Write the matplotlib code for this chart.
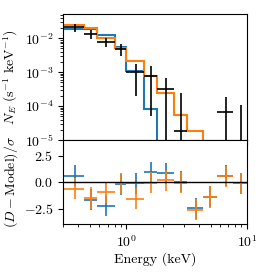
import matplotlib
matplotlib.use("Agg")
import matplotlib.pyplot as plt
import numpy as np

plt.rcParams["font.family"] = "serif"
plt.rcParams["font.serif"] = ["cmr10"]
plt.rcParams["mathtext.fontset"] = "cm"
plt.rcParams["axes.formatter.use_mathtext"] = True
plt.rcParams["font.size"] = 10

# energy bin edges (keV)
edges = np.array([0.3, 0.45, 0.57, 0.8, 1.0, 1.4, 1.8, 2.5, 3.2, 4.3, 5.6, 7.7, 10.0])

# observed spectrum (counts s^-1 keV^-1) and 1-sigma errors
data = [0.0211, 0.0134, 0.0079, 0.0048, 0.0010, 0.00078, 0.00031, 1.9e-5,
        3e-6, 3e-6, 6.6e-5, 5e-6]
data_err = [0.006, 0.0038, 0.0022, 0.0018, 0.0008, 0.00073, 0.00037, 0.00023,
            1e-6, 1e-6, 0.000116, 0.000105]

# folded models
model_blue = [0.0182, 0.0190, 0.01285, 0.00555, 0.0011, 8.3e-5, 3e-6, 4e-7,
              1e-7, 3e-8, 1e-8, 3e-9]
model_orange = [0.0246, 0.0197, 0.0100, 0.00512, 0.00215, 0.00079, 0.00024,
                5.4e-5, 1.9e-5, 5e-6, 1e-6, 3e-7]

# residuals (D - Model) / sigma
resid_blue = [0.6, -1.65, -2.25, -0.18, -0.1, 0.95, 0.85, 0.05, -2.45, -1.38,
              0.62, -0.08]
resid_orange = [-0.62, -1.5, -0.95, -0.1, -1.57, -0.05, 0.2, -0.05, -2.6, -1.4,
                0.58, -0.1]

centers = (edges[1:] + edges[:-1]) / 2
half = (edges[1:] - edges[:-1]) / 2

fig = plt.figure(figsize=(2.65, 2.73), dpi=100)
ax = fig.add_axes([0.238, 0.487, 0.694, 0.462])
axr = fig.add_axes([0.238, 0.178, 0.694, 0.309], sharex=ax)

ax.stairs(model_blue, edges, color="tab:blue", lw=1.5, baseline=None)
ax.stairs(model_orange, edges, color="tab:orange", lw=1.5, baseline=None)
ax.errorbar(centers, data, xerr=half, yerr=data_err, fmt="none", ecolor="k", elinewidth=1.2)
ax.set_xscale("log")
ax.set_yscale("log")
ax.set_xlim(0.3, 10)
ax.set_ylim(1e-5, 0.052)
ax.set_ylabel(r"$N_E\ (\mathrm{s}^{-1}\ \mathrm{keV}^{-1})$")
ax.yaxis.set_label_coords(-0.232, 0.5)
plt.setp(ax.get_xticklabels(), visible=False)

axr.errorbar(centers, resid_blue, xerr=half, yerr=1, fmt="none", ecolor="tab:blue", elinewidth=1.2)
axr.errorbar(centers, resid_orange, xerr=half, yerr=1, fmt="none", ecolor="tab:orange", elinewidth=1.2)
axr.axhline(0, color="k", lw=1)
axr.set_ylim(-4, 4)
axr.set_yticks([-2.5, 0, 2.5])
axr.set_ylabel(r"$(D-\mathrm{Model})/\sigma$")
axr.yaxis.set_label_coords(-0.232, 0.5)
axr.set_xlabel("Energy (keV)", labelpad=2)

fig.savefig("out.png", dpi=100)
